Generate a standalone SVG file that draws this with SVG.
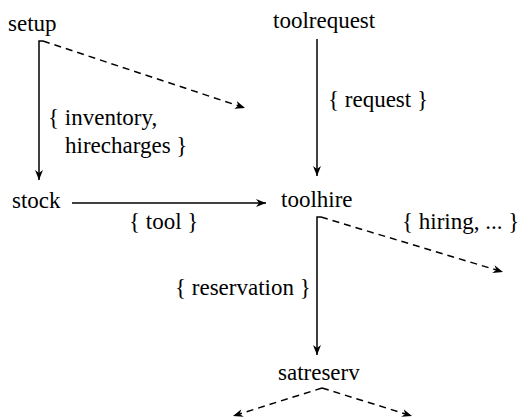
<svg xmlns="http://www.w3.org/2000/svg" width="521" height="418" viewBox="0 0 521 418">
<defs>
<marker id="ah" viewBox="0 0 10 10" refX="10" refY="5" markerWidth="10" markerHeight="10" markerUnits="userSpaceOnUse" orient="auto">
<path d="M0,1 L10,5 L0,9 L3,5 Z" fill="#000"/>
</marker>
</defs>
<rect width="521" height="418" fill="#fff"/>
<g id="connectors" fill="none" stroke="#000" stroke-width="1.5">
<path d="M43,41 L39,41 L39,180" marker-end="url(#ah)"/>
<path stroke-dasharray="7,5" d="M43,41 L245,108" marker-end="url(#ah)"/>
<path d="M317,39 L317,176" marker-end="url(#ah)"/>
<path d="M72,203 L266,203" marker-end="url(#ah)"/>
<path d="M321,217 L317,217 L317,355" marker-end="url(#ah)"/>
<path stroke-dasharray="7,5" d="M321,217 L503,272" marker-end="url(#ah)"/>
<path stroke-dasharray="7,5" d="M322,388 L233,416" marker-end="url(#ah)"/>
<path stroke-dasharray="7,5" d="M322,388 L412,416" marker-end="url(#ah)"/>
</g>
<g id="labels">
<text x="48" y="125" style="font-family:'Liberation Serif',serif;font-size:23px">{ inventory,</text>
<text x="65" y="153" style="font-family:'Liberation Serif',serif;font-size:23px">hirecharges }</text>
<text x="328" y="107" style="font-family:'Liberation Serif',serif;font-size:23px">{ request }</text>
<text x="129" y="229" style="font-family:'Liberation Serif',serif;font-size:23px">{ tool }</text>
<text x="402" y="229" style="font-family:'Liberation Serif',serif;font-size:23px">{ hiring, ... }</text>
<text x="175" y="295" style="font-family:'Liberation Serif',serif;font-size:23px">{ reservation }</text>
</g>
<g id="setup"><text x="8" y="31" style="font-family:'Liberation Serif',serif;font-size:23px">setup</text></g>
<g id="toolrequest"><text x="273" y="28" style="font-family:'Liberation Serif',serif;font-size:23px">toolrequest</text></g>
<g id="stock"><text x="12" y="208" style="font-family:'Liberation Serif',serif;font-size:23px">stock</text></g>
<g id="toolhire"><text x="281" y="207" style="font-family:'Liberation Serif',serif;font-size:23px">toolhire</text></g>
<g id="satreserv"><text x="278" y="380" style="font-family:'Liberation Serif',serif;font-size:23px">satreserv</text></g>
</svg>
